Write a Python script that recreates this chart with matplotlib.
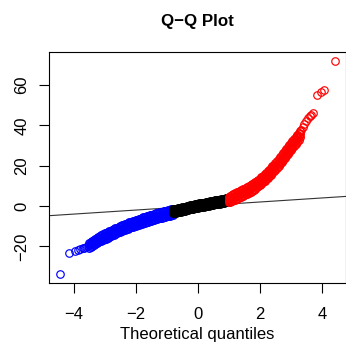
import matplotlib
matplotlib.use("Agg")
import matplotlib.pyplot as plt

plt.rcParams['font.family'] = ['Liberation Sans', 'DejaVu Sans']

# ---- data ----
title = "Q\u2212Q Plot"
xlabel = "Theoretical quantiles"
xticks = [-4, -2, 0, 2, 4]
yticks = [-20, 0, 20, 40, 60]

# reference line y = a + b x
line_intercept = 0.0
line_slope = 1.0

# blue (lower) tail, isolated circles
blue_tail_x = [-4.42, -4.13, -3.95, -3.86, -3.78, -3.71, -3.65, -3.59, -3.54]
blue_tail_y = [-33.7, -23.4, -22.5, -21.9, -21.4, -21.0, -20.6, -20.2, -19.8]

# blue dense band (theoretical x; lower edge, middle, upper edge of band)
blue_x = [-3.50, -3.45, -3.40, -3.35, -3.30, -3.25, -3.20, -3.15, -3.10, -3.05,
          -3.00, -2.95, -2.90, -2.85, -2.80, -2.75, -2.70, -2.65, -2.60, -2.55,
          -2.50, -2.45, -2.40, -2.35, -2.30, -2.25, -2.20, -2.15, -2.10, -2.05,
          -2.00, -1.95, -1.90, -1.85, -1.80, -1.75, -1.70, -1.65, -1.60, -1.55,
          -1.50, -1.45, -1.40, -1.35, -1.30, -1.25, -1.20, -1.15, -1.10, -1.05,
          -1.00, -0.95, -0.90, -0.85, -0.80]
blue_lo = [-20.9, -20.4, -19.9, -19.4, -18.9, -18.4, -18.0, -17.5, -17.1, -16.7,
           -16.4, -16.1, -15.7, -15.4, -15.0, -14.6, -14.2, -13.8, -13.5, -13.1,
           -12.8, -12.4, -12.1, -11.8, -11.5, -11.2, -10.9, -10.6, -10.3, -10.0,
           -9.7, -9.5, -9.2, -9.0, -8.7, -8.4, -8.2, -7.9, -7.7, -7.4,
           -7.2, -7.0, -6.7, -6.5, -6.3, -6.1, -5.9, -5.7, -5.5, -5.3,
           -5.1, -4.9, -4.7, -4.5, -4.3]
blue_mid = [-19.5, -19.0, -18.5, -18.0, -17.5, -17.0, -16.6, -16.1, -15.7, -15.3,
            -15.0, -14.7, -14.3, -14.0, -13.6, -13.2, -12.8, -12.4, -12.1, -11.7,
            -11.4, -11.0, -10.7, -10.4, -10.1, -9.8, -9.5, -9.2, -8.9, -8.6,
            -8.3, -8.1, -7.8, -7.6, -7.3, -7.0, -6.8, -6.5, -6.3, -6.0,
            -5.8, -5.6, -5.3, -5.1, -4.9, -4.7, -4.5, -4.3, -4.1, -3.9,
            -3.7, -3.5, -3.3, -3.1, -2.9]
blue_hi = [-18.1, -17.6, -17.1, -16.6, -16.1, -15.6, -15.2, -14.7, -14.3, -13.9,
           -13.6, -13.3, -12.9, -12.6, -12.2, -11.8, -11.4, -11.0, -10.7, -10.3,
           -10.0, -9.6, -9.3, -9.0, -8.7, -8.4, -8.1, -7.8, -7.5, -7.2,
           -6.9, -6.7, -6.4, -6.2, -5.9, -5.6, -5.4, -5.1, -4.9, -4.6,
           -4.4, -4.2, -3.9, -3.7, -3.5, -3.3, -3.1, -2.9, -2.7, -2.5,
           -2.3, -2.1, -1.9, -1.7, -1.5]

# black central band
black_x = [-0.80, -0.75, -0.70, -0.65, -0.60, -0.55, -0.50, -0.45, -0.40, -0.35,
           -0.30, -0.25, -0.20, -0.15, -0.10, -0.05, 0.00, 0.05, 0.10, 0.15,
           0.20, 0.25, 0.30, 0.35, 0.40, 0.45, 0.50, 0.55, 0.60, 0.65,
           0.70, 0.75, 0.80, 0.85, 0.90, 0.95]
black_lo = [-3.7, -3.5, -3.3, -3.2, -3.0, -2.8, -2.6, -2.5, -2.3, -2.1,
            -1.9, -1.7, -1.6, -1.4, -1.2, -1.1, -0.9, -0.7, -0.6, -0.4,
            -0.3, -0.1, 0.0, 0.2, 0.3, 0.5, 0.6, 0.8, 0.9, 1.1,
            1.2, 1.4, 1.5, 1.7, 1.8, 2.0]
black_mid = [-2.7, -2.5, -2.3, -2.2, -2.0, -1.8, -1.6, -1.5, -1.3, -1.1,
             -0.9, -0.7, -0.6, -0.4, -0.2, -0.1, 0.1, 0.3, 0.4, 0.6,
             0.7, 0.9, 1.0, 1.2, 1.3, 1.5, 1.6, 1.8, 1.9, 2.1,
             2.2, 2.4, 2.5, 2.7, 2.8, 3.0]
black_hi = [-1.7, -1.5, -1.3, -1.2, -1.0, -0.8, -0.6, -0.5, -0.3, -0.1,
            0.1, 0.3, 0.4, 0.6, 0.8, 0.9, 1.1, 1.3, 1.4, 1.6,
            1.7, 1.9, 2.0, 2.2, 2.3, 2.5, 2.6, 2.8, 2.9, 3.1,
            3.2, 3.4, 3.5, 3.7, 3.8, 4.0]

# red dense band
red_x = [1.00, 1.05, 1.10, 1.15, 1.20, 1.25, 1.30, 1.35, 1.40, 1.45,
         1.50, 1.55, 1.60, 1.65, 1.70, 1.75, 1.80, 1.85, 1.90, 1.95,
         2.00, 2.05, 2.10, 2.15, 2.20, 2.25, 2.30, 2.35, 2.40, 2.45,
         2.50, 2.55, 2.60, 2.65, 2.70, 2.75, 2.80, 2.85, 2.90, 2.95,
         3.00, 3.05, 3.10, 3.15, 3.20, 3.25, 3.30]
red_lo = [1.8, 2.1, 2.5, 2.9, 3.2, 3.6, 3.9, 4.3, 4.7, 5.0,
          5.4, 5.8, 6.2, 6.7, 7.1, 7.6, 8.1, 8.6, 9.2, 9.8,
          10.4, 11.1, 11.8, 12.5, 13.2, 14.0, 14.8, 15.6, 16.4, 17.3,
          18.1, 19.0, 19.9, 20.9, 21.9, 22.9, 23.9, 24.9, 25.9, 26.9,
          27.9, 28.9, 29.9, 30.9, 31.9, 32.9, 34.0]
red_mid = [3.2, 3.6, 4.0, 4.4, 4.8, 5.2, 5.5, 5.9, 6.3, 6.6,
           7.0, 7.4, 7.8, 8.3, 8.7, 9.2, 9.7, 10.2, 10.8, 11.4,
           12.0, 12.7, 13.4, 14.1, 14.8, 15.6, 16.4, 17.2, 18.0, 18.9,
           19.7, 20.6, 21.5, 22.5, 23.5, 24.5, 25.5, 26.5, 27.5, 28.5,
           29.5, 30.5, 31.5, 32.5, 33.5, 34.5, 35.6]
red_hi = [4.6, 5.1, 5.5, 5.9, 6.4, 6.8, 7.1, 7.5, 7.9, 8.2,
          8.6, 9.0, 9.4, 9.9, 10.3, 10.8, 11.3, 11.8, 12.4, 13.0,
          13.6, 14.3, 15.0, 15.7, 16.4, 17.2, 18.0, 18.8, 19.6, 20.5,
          21.3, 22.2, 23.1, 24.1, 25.1, 26.1, 27.1, 28.1, 29.1, 30.1,
          31.1, 32.1, 33.1, 34.1, 35.1, 36.1, 37.2]

# red (upper) tail, isolated circles
red_tail_x = [3.34, 3.38, 3.43, 3.48, 3.54, 3.60, 3.66, 3.72, 3.83, 3.97, 4.07, 4.42]
red_tail_y = [37.5, 39.0, 40.6, 42.0, 43.4, 44.4, 45.2, 45.9, 54.9, 56.6, 57.7, 72.0]

# ---- figure ----
W, H = 346, 343
fig = plt.figure(figsize=(W / 100, H / 100), dpi=100)
ax = fig.add_axes([49.3 / W, 1 - 282.7 / H, (345.6 - 49.3) / W, (282.7 - 52.3) / H])

mk = dict(marker='o', linestyle='none', markersize=5.4, markeredgewidth=0.85,
          markerfacecolor='none')
mk_dense = dict(mk, markeredgewidth=1.0)

ax.axline((0, line_intercept), slope=line_slope, color='#333333', lw=0.8, zorder=1)

blue = '#0000FF'
red = '#FF0000'
ax.plot(blue_tail_x, blue_tail_y, markeredgecolor=blue, **mk)
for ys in (blue_lo, blue_mid, blue_hi):
    ax.plot(blue_x, ys, markeredgecolor=blue, **mk_dense)
for ys in (black_lo, black_mid, black_hi):
    ax.plot(black_x, ys, markeredgecolor='black', **mk_dense)
for ys in (red_lo, red_mid, red_hi):
    ax.plot(red_x, ys, markeredgecolor=red, **mk_dense)
ax.plot(red_tail_x, red_tail_y, markeredgecolor=red, **mk)

ax.set_xlim(-4.78, 4.76)
ax.set_ylim(-38.0, 76.2)
ax.set_xticks(xticks)
ax.set_yticks(yticks)
ax.set_xticklabels([str(v).replace('-', '\u2212') for v in xticks])
ax.set_yticklabels([str(v).replace('-', '\u2212') for v in yticks])

for s in ax.spines.values():
    s.set_linewidth(0.8)
    s.set_color('black')

ax.tick_params(axis='both', direction='out', length=7.2, width=0.8,
               labelsize=12, colors='black')
ax.tick_params(axis='x', pad=10.5)
ax.tick_params(axis='y', pad=7)
for lab in ax.get_yticklabels():
    lab.set_rotation(90)
    lab.set_va('center')

ax.set_xlabel(xlabel, fontsize=12)
ax.xaxis.set_label_coords(0.5, -0.194)
ax.xaxis.label.set_va('top')

ax.set_title(title, fontsize=12.2, fontweight='bold', pad=19)

fig.savefig('out.png', dpi=100)
